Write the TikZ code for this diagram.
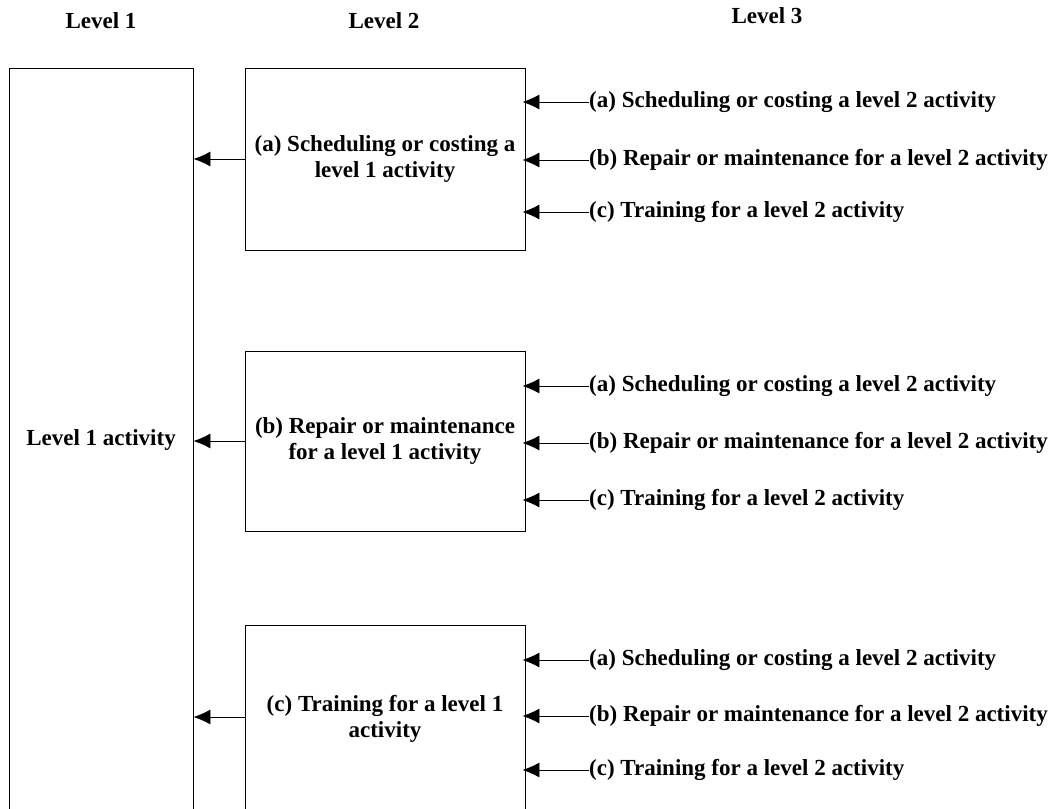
\documentclass[tikz,border=0pt]{standalone}
\usepackage{fontspec}
\setmainfont{Liberation Serif}
\usetikzlibrary{arrows.meta, positioning, calc}

\begin{document}
\begin{tikzpicture}[x=1pt, y=-1pt, font=\bfseries\fontsize{23}{25.5}\selectfont]
        % Styles for the boxes, the level 3 labels and the arrows
        \tikzset{
            box/.style={draw, line width=0.8pt, align=center, inner sep=0pt},
            task/.style={anchor=west, inner sep=0pt},
            feed/.style={line width=0.8pt, -{Latex[length=17pt, width=15pt]}}
        }
        \useasboundingbox (0,0) rectangle (1062,808);
        \clip (0,0) rectangle (1062,808);

        % Column headings
        \node (headone) at (101,21) {Level 1};
        \node (headtwo) at (384,21) {Level 2};
        \node (headthree) at (767,16) {Level 3};

        % Level 1 box, cut off at the bottom
        \node[box, minimum width=184, minimum height=744] (lone) at (101,440) {Level 1 activity};

        % Level 2 boxes
        \node[box, minimum width=280, minimum height=182] (ltwoa) at (385,159) {(a) Scheduling or costing a\\ level 1 activity};
        \node[box, minimum width=280, minimum height=180] (ltwob) at (385,441) {(b) Repair or maintenance\\ for a level 1 activity};
        \node[box, minimum width=280, minimum height=188] (ltwoc) at (385,719) {(c) Training for a level 1\\ activity};

        % Level 2 feeds level 1
        \coordinate (cfrom) at ($(ltwoc.west)+(0,-2)$);
        \draw[feed] (ltwoa.west) -- (lone.east |- ltwoa.west);
        \draw[feed] (ltwob.west) -- (lone.east |- ltwob.west);
        \draw[feed] (cfrom) -- (lone.east |- cfrom);

        % Level 3 labels and their arrows into each level 2 box
        \foreach \b/\ya/\yb/\yc in {a/102/160/212, b/386/443/500, c/660/716/770} {
            \node[task] (\b one) at (589,\ya) {(a) Scheduling or costing a level 2 activity};
            \node[task] (\b two) at (589,\yb) {(b) Repair or maintenance for a level 2 activity};
            \node[task] (\b three) at (589,\yc) {(c) Training for a level 2 activity};
            \draw[feed, shorten >=-3pt] (\b one.west) -- (ltwo\b.east |- \b one.west);
            \draw[feed, shorten >=-3pt] (\b two.west) -- (ltwo\b.east |- \b two.west);
            \draw[feed, shorten >=-3pt] (\b three.west) -- (ltwo\b.east |- \b three.west);
        }

    \end{tikzpicture}
\end{document}
